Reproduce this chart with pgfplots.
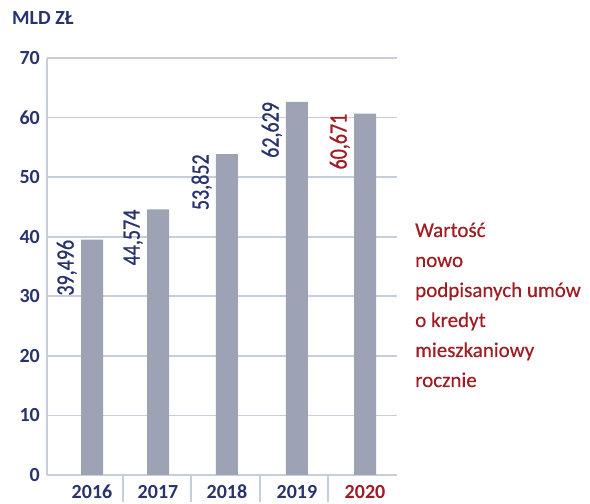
\documentclass[border=0pt]{standalone}
\usepackage{fontspec}
\setmainfont{Carlito}
\newfontfamily\narrowfont[FakeStretch=0.8,FakeBold=0.8]{Carlito}
\newfontfamily\redfont[FakeBold=0.4]{Carlito}
\usepackage{pgfplots}
\pgfplotsset{compat=1.18}
\definecolor{navy}{HTML}{28336D}
\definecolor{myred}{HTML}{9E1C22}
\definecolor{bargray}{HTML}{9DA2B5}
\definecolor{gridc}{HTML}{C8CDDC}
\begin{document}
\begin{tikzpicture}[x=1pt,y=1pt]
\useasboundingbox (0,0) rectangle (590,504);
\begin{axis}[
  at={(47pt,29pt)}, anchor=south west,
  scale only axis, width=350pt, height=417pt,
  xmin=-0.5, xmax=4.5, ymin=0, ymax=70,
  axis x line*=bottom, axis y line*=left,
  axis line style={gridc, line width=1.6pt},
  ymajorgrids, grid style={gridc, line width=1.6pt},
  ytick={0,10,...,70},
  xtick={0.143,1.086,2.071,3.071,4.043},
  xticklabels={2016,2017,2018,2019,\textcolor{myred}{2020}},
  minor xtick={0.586,1.557,2.543,3.514},
  major tick length=0pt,
  minor tick length=27pt,
  xtick align=outside,
  minor tick style={gridc, line width=1.4pt},
  tick label style={font=\fontsize{20}{22}\selectfont\bfseries, text=navy},
  /pgf/number format/assume math mode=true,
  yticklabel style={anchor=east, inner sep=0pt, xshift=-7pt},
  xticklabel style={anchor=base, inner sep=0pt, yshift=-23.5pt},
  clip=false,
]
\addplot[ybar, bar width=22pt, bar shift=0pt, fill=bargray, draw=none]
  coordinates {(0.143,39.496) (1.086,44.574) (2.071,53.852) (3.071,62.629) (4.043,60.671)};
\addplot[draw=none, mark=none, nodes near coords, point meta=explicit symbolic,
  every node near coord/.append style={rotate=90, anchor=south east, inner sep=0pt,
    font=\narrowfont\fontsize{25}{27}\selectfont, text=navy}]
  table[meta=label] {
x y label
-0.071 39.496 39,496
0.872 44.574 44,574
1.857 53.852 53,852
2.857 62.629 62,629
};
\addplot[draw=none, mark=none, nodes near coords, point meta=explicit symbolic,
  every node near coord/.append style={rotate=90, anchor=south east, inner sep=0pt,
    font=\narrowfont\fontsize{25}{27}\selectfont, text=myred}]
  table[meta=label] {
x y label
3.829 60.671 60,671
};
\end{axis}
\node[anchor=base west, inner sep=0pt, text=navy, font=\fontsize{20}{22}\selectfont\bfseries] at (12,479) {MLD ZŁ};
\begin{scope}[every node/.style={anchor=base west, inner sep=0pt, text=myred, font=\redfont\fontsize{21}{23}\selectfont}]
\node at (415,267) {Wartość};
\node at (415,237) {nowo};
\node at (415,207) {podpisanych umów};
\node at (415,177) {o kredyt};
\node at (415,147) {mieszkaniowy};
\node at (415,117) {rocznie};
\end{scope}
\end{tikzpicture}
\end{document}
